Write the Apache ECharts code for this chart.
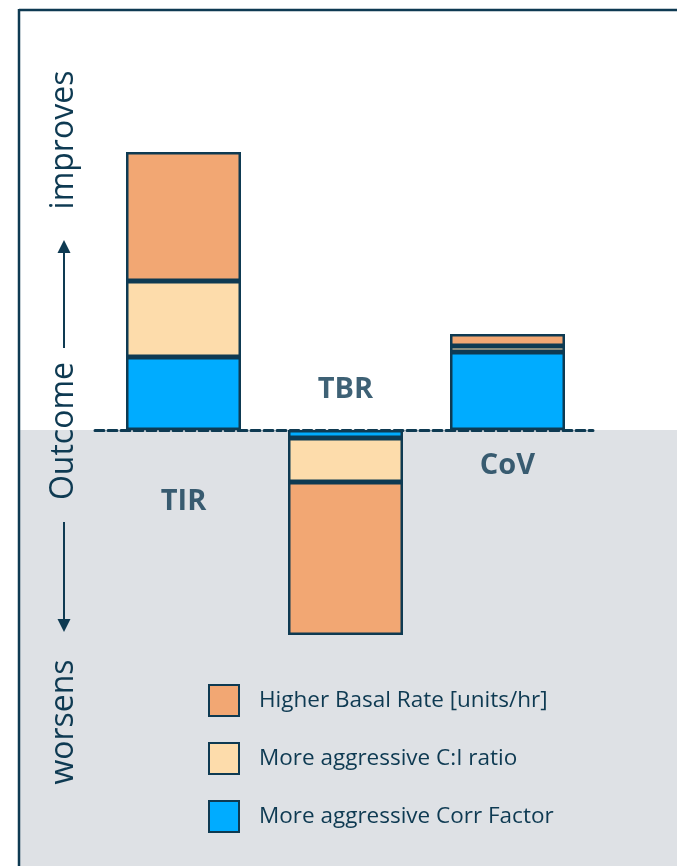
<!DOCTYPE html>
<html>
<head>
<meta charset="utf-8">
<script src="https://cdn.jsdelivr.net/npm/echarts@6/dist/echarts.min.js"></script>
<style>
    html, body { margin: 0; padding: 0; background: #fff; }
    #chart { width: 677px; height: 866px; }
</style>
</head>
<body>
<div id="chart"></div>
<script>
const categories = ['TIR', 'TBR', 'CoV']
const corrFactor = [7.3, -0.8, 7.8]
const ciRatio = [7.6, -4.4, 0.6]
const basalRate = [12.9, -15.3, 1.2]
const legendNames = ['Higher Basal Rate [units/hr]', 'More aggressive C:I ratio', 'More aggressive Corr Factor']

const navy = '#0e3a52'
const font = 'Open Sans'
const yMin = -22
const yMax = 30

const chart = echarts.init(document.getElementById('chart'))

function barSeries(name, data, color) {
    return {
        name: name,
        type: 'bar',
        stack: 'outcome',
        data: data,
        barWidth: 115,
        itemStyle: { color: color, borderColor: navy, borderWidth: 2.5 },
        emphasis: { disabled: true },
        animation: false,
    }
}

// label offsets for TIR / TBR / CoV, relative to the zero line
const labelShift = [72, -40, 36]

chart.setOption({
    backgroundColor: '#fff',
    animation: false,
    grid: [
        { left: 102.5, width: 486, top: 130, height: 520 },
        { left: 95, width: 498, top: 130, height: 520 },
    ],
    xAxis: [
        { type: 'category', data: categories, gridIndex: 0, show: false },
        {
            type: 'value', gridIndex: 1, min: 0, max: 1, z: 10,
            axisLine: { show: true, onZero: true, lineStyle: { color: navy, width: 3, type: [9, 4] } },
            axisTick: { show: false },
            axisLabel: { show: false },
            splitLine: { show: false },
        },
    ],
    yAxis: [
        { type: 'value', gridIndex: 0, min: yMin, max: yMax, show: false },
        { type: 'value', gridIndex: 1, min: yMin, max: yMax, show: false },
    ],
    legend: {
        data: legendNames,
        orient: 'vertical',
        left: 208,
        top: 684,
        padding: 0,
        icon: 'rect',
        itemWidth: 30,
        itemHeight: 31,
        itemGap: 25,
        selectedMode: false,
        textStyle: { color: navy, fontSize: 22.5, fontFamily: font, padding: [0, 0, 0, 15] },
    },
    series: [
        barSeries('More aggressive Corr Factor', corrFactor, '#00acff'),
        barSeries('More aggressive C:I ratio', ciRatio, '#fddcab'),
        barSeries('Higher Basal Rate [units/hr]', basalRate, '#f2a773'),
        {
            type: 'scatter',
            silent: true,
            symbolSize: 1,
            itemStyle: { color: 'transparent' },
            z: 11,
            data: categories.map((c, i) => ({ value: 0, label: { offset: [0, labelShift[i]] } })),
            label: {
                show: true,
                position: 'inside',
                formatter: '{b}',
                color: navy,
                fontSize: 29,
                fontWeight: 'bold',
                fontFamily: font,
            },
        },
    ],
})

// background band below the zero line, frame and the outcome arrow
const zeroY = chart.convertToPixel({ yAxisIndex: 0 }, 0)
const ax = 64
const sideText = { fill: navy, fontSize: 32, fontFamily: font, align: 'center', verticalAlign: 'middle' }

chart.setOption({
    graphic: [
        { type: 'rect', z: -10, shape: { x: 20, y: zeroY, width: 657, height: 866 - zeroY }, style: { fill: '#dee1e5' } },
        { type: 'line', z: 20, shape: { x1: 19, y1: 10, x2: 677, y2: 10 }, style: { stroke: navy, lineWidth: 2.5 } },
        { type: 'line', z: 20, shape: { x1: 19, y1: 9, x2: 19, y2: 866 }, style: { stroke: navy, lineWidth: 2.5 } },
        { type: 'text', z: 20, x: ax, y: 140, rotation: Math.PI / 2, style: Object.assign({ text: 'improves' }, sideText) },
        { type: 'text', z: 20, x: ax, y: 431, rotation: Math.PI / 2, style: Object.assign({ text: 'Outcome' }, sideText) },
        { type: 'text', z: 20, x: ax, y: 722, rotation: Math.PI / 2, style: Object.assign({ text: 'worsens' }, sideText) },
        { type: 'line', z: 20, shape: { x1: ax, y1: 348, x2: ax, y2: 250 }, style: { stroke: navy, lineWidth: 2 } },
        { type: 'polygon', z: 20, shape: { points: [[ax, 240], [ax - 6.5, 253], [ax + 6.5, 253]] }, style: { fill: navy } },
        { type: 'line', z: 20, shape: { x1: ax, y1: 522, x2: ax, y2: 622 }, style: { stroke: navy, lineWidth: 2 } },
        { type: 'polygon', z: 20, shape: { points: [[ax, 632], [ax - 6.5, 619], [ax + 6.5, 619]] }, style: { fill: navy } },
    ],
})
</script>
</body>
</html>
